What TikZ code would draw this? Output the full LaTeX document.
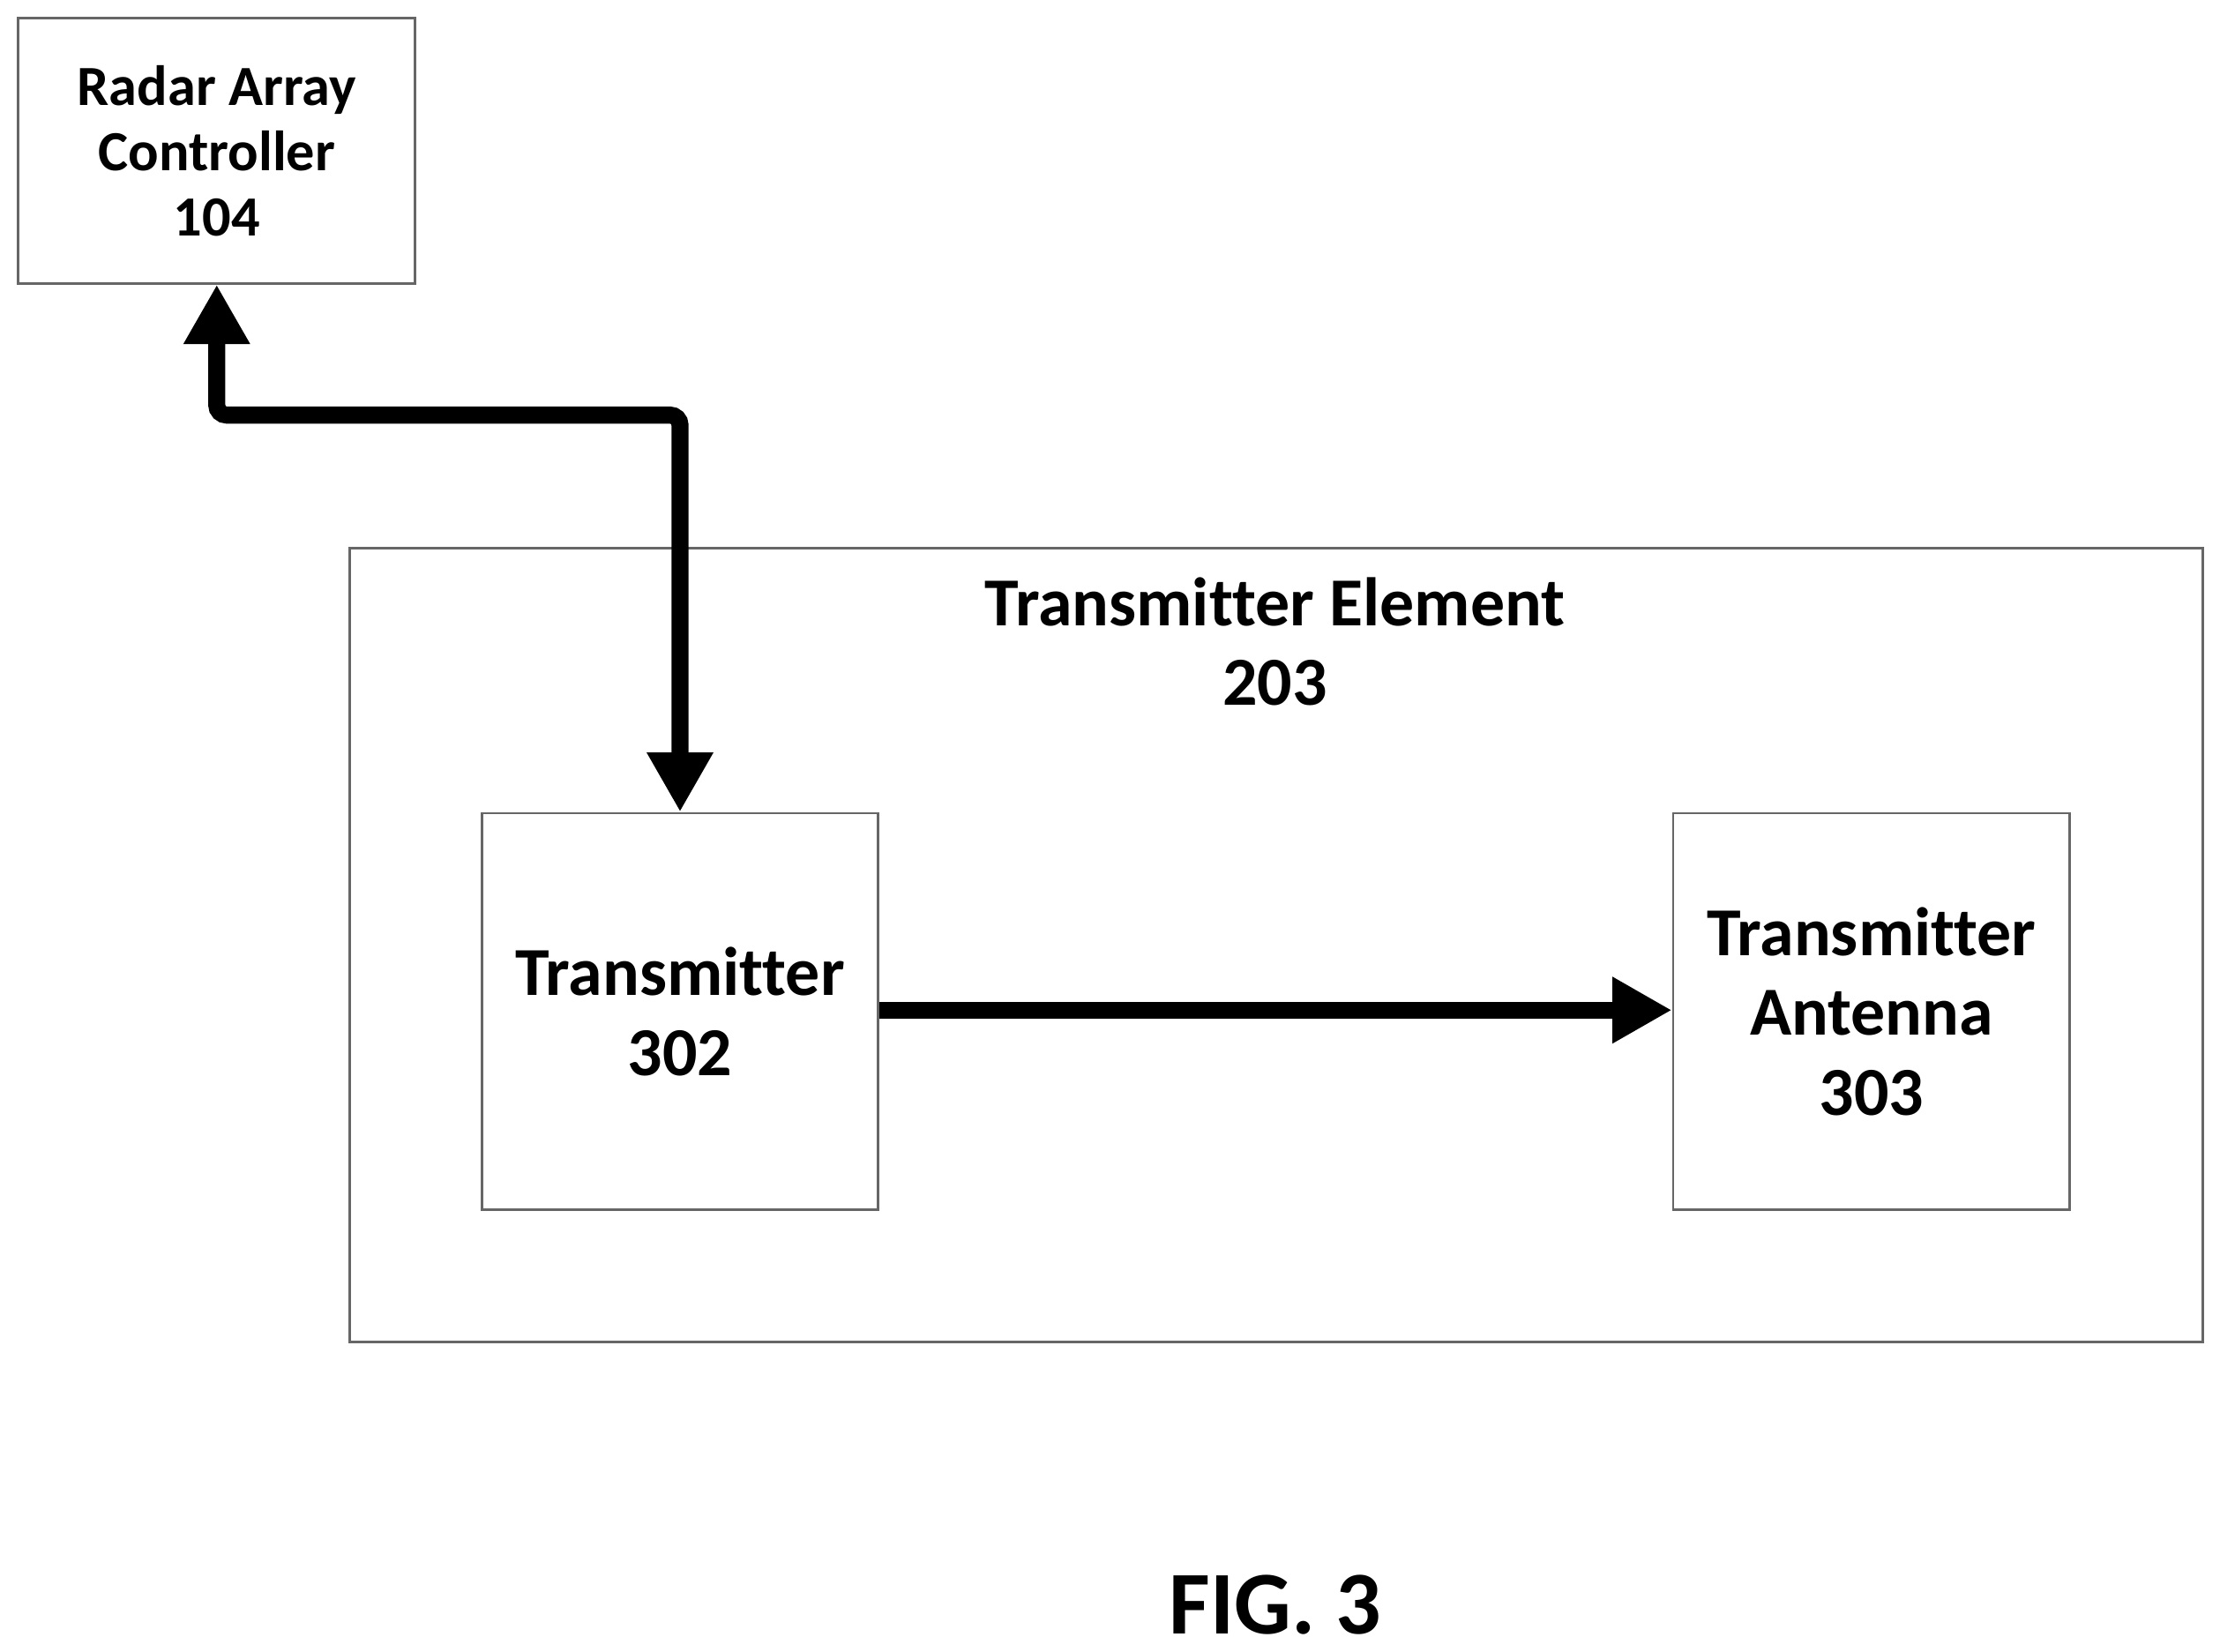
\documentclass[tikz,border=0pt]{standalone}
\usepackage{fontspec}
\setmainfont[Ligatures=NoCommon]{Carlito}
\usetikzlibrary{arrows.meta,positioning}
\tikzset{
  blk/.style={draw=black!60,line width=0.5pt,minimum width=2.8cm,minimum height=2.8cm,inner sep=0pt,align=center,font=\bfseries\fontsize{13.8}{16}\selectfont},
  conn/.style={line width=0.12cm,-{Triangle[width=0.44cm,length=0.42cm]}}
}
\begin{document}
\begin{tikzpicture}
	\useasboundingbox (0,0) rectangle (15.67,11.66);
	\node[draw=black!60,line width=0.5pt,minimum width=2.8cm,minimum height=1.87cm,inner sep=0pt,align=center,font=\bfseries\fontsize{11.4}{13.1}\selectfont] (rac) at (1.53,10.595) {Radar Array\\Controller\\104};
	\node[draw=black!60,line width=0.5pt,minimum width=13.08cm,minimum height=5.6cm] (elem) at (9.01,4.99) {};
	\node[font=\bfseries\fontsize{13.8}{16}\selectfont,align=center] (elabel) at (9.0,7.13) {Transmitter Element\\203};
	\node[blk] (tx) at (4.8,4.52) {Transmitter\\302};
	\node[blk] (ant) at (13.21,4.52) {Transmitter\\Antenna\\303};
	\coordinate (bend) at (1.53,8.73);
	\node[font=\bfseries\fontsize{18}{22}\selectfont] (fig) at (9.0,0.33) {FIG. 3};
	%% connectors
	\draw[conn,{Triangle[width=0.44cm,length=0.42cm]}-{Triangle[width=0.44cm,length=0.42cm]},rounded corners=2pt] (tx.north) -- (tx.north |- bend) -| (rac.south);
	\draw[conn] (tx.east |- 0,4.53) -- (ant.west |- 0,4.53);
\end{tikzpicture}
\end{document}
